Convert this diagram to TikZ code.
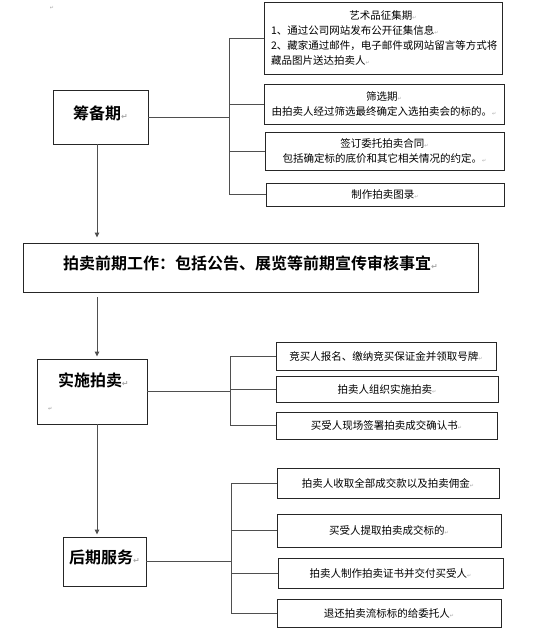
\documentclass[tikz,border=0pt]{standalone}
\usepackage{fontspec}
\usepackage{xcolor}
\usetikzlibrary{arrows.meta}
\newfontfamily\cjk{Noto Sans CJK SC}[BoldFont={Noto Sans CJK SC Bold}]
\newfontfamily\retfont{DejaVu Sans}
\definecolor{FrameBlack}{HTML}{262626}
\definecolor{WireGray}{HTML}{4F4F4F}
\definecolor{MarkGray}{HTML}{A8A8A8}
\newcommand{\bigret}{{\retfont\fontsize{8}{8}\selectfont\color{MarkGray}↵}}
\newcommand{\smallret}{{\retfont\fontsize{5}{5}\selectfont\color{MarkGray}↵}}

\tikzset{
  stagebox/.style={draw=FrameBlack, line width=0.9pt, inner sep=0pt,
    font=\cjk\bfseries\fontsize{16}{20}\selectfont, align=center},
  lifted/.style={text height=12pt, text depth=8pt},
  notebox/.style={draw=FrameBlack, line width=0.8pt, inner sep=0pt,
    font=\cjk\fontsize{10.5}{15}\selectfont, align=center},
  wire/.style={draw=WireGray, line width=0.9pt},
  flow/.style={wire, -{Triangle[length=5pt,width=4.5pt]}}
}

\begin{document}
\begin{tikzpicture}[x=1pt, y=-1pt]
    \useasboundingbox (0,0) rectangle (551,629);
    \node (topmark) at (52,8) {\smallret};

    \node[stagebox, lifted, minimum width=95pt, minimum height=54pt] (prep) at (100.5,117) {筹备期\bigret};
    \node[notebox, minimum width=238pt, minimum height=72pt, text width=224pt, align=left] (collect) at (383,38) {
      {\centering 艺术品征集期\smallret\par}
      1、通过公司网站发布公开征集信息\smallret\\
      2、藏家通过邮件，电子邮件或网站留言等方式将\\
      藏品图片送达拍卖人\smallret
    };
    \node[notebox, minimum width=240pt, minimum height=40pt] (screen) at (384,104) {筛选期\smallret\\由拍卖人经过筛选最终确定入选拍卖会的标的。\smallret};
    \node[notebox, minimum width=239pt, minimum height=38pt] (contract) at (384.5,151) {签订委托拍卖合同\smallret\\包括确定标的底价和其它相关情况的约定。\smallret};
    \node[notebox, minimum width=238pt, minimum height=23pt] (catalog) at (385,194.5) {制作拍卖图录\smallret};

    \node[stagebox, lifted, minimum width=455pt, minimum height=49pt] (pre) at (250.5,267.5) {拍卖前期工作：包括公告、展览等前期宣传审核事宜\bigret};

    \node[stagebox, minimum width=110pt, minimum height=65pt, text width=80pt, align=left] (impl) at (92,391.5) {\hspace*{6pt}实施拍卖\bigret\\[4pt]\hspace*{-4pt}\smallret};
    \node[notebox, minimum width=220pt, minimum height=28pt] (bidding) at (386,356) {竞买人报名、缴纳竞买保证金并领取号牌\smallret};
    \node[notebox, minimum width=222pt, minimum height=26pt] (auction) at (387,389) {拍卖人组织实施拍卖\smallret};
    \node[notebox, minimum width=221pt, minimum height=27pt] (confirm) at (386.5,425.5) {买受人现场签署拍卖成交确认书\smallret};

    \node[stagebox, lifted, minimum width=83pt, minimum height=49pt] (post) at (104.5,561.5) {后期服务\bigret};
    \node[notebox, minimum width=222pt, minimum height=30pt] (payment) at (388,483) {拍卖人收取全部成交款以及拍卖佣金\smallret};
    \node[notebox, minimum width=224pt, minimum height=33pt] (pickup) at (389,530.5) {买受人提取拍卖成交标的\smallret};
    \node[notebox, minimum width=225pt, minimum height=30pt] (certificate) at (390.5,573) {拍卖人制作拍卖证书并交付买受人\smallret};
    \node[notebox, minimum width=224pt, minimum height=28pt] (returnlot) at (389,613) {退还拍卖流标标的给委托人\smallret};

    \coordinate (spine) at (97,0);
    \coordinate (busA) at (229,0);
    \coordinate (busB) at (230,0);
    \coordinate (busC) at (231,0);

    \draw[wire] (prep.east) -- (prep.east -| busA);
    \draw[wire] (collect.west -| busA) -- (catalog.west -| busA);
    \foreach \n in {collect,screen,contract,catalog}
      \draw[wire] (\n.west -| busA) -- (\n.west);

    \draw[wire] (impl.east) -- (impl.east -| busB);
    \draw[wire] (bidding.west -| busB) -- (confirm.west -| busB);
    \foreach \n in {bidding,auction,confirm}
      \draw[wire] (\n.west -| busB) -- (\n.west);

    \draw[wire] (post.east) -- (post.east -| busC);
    \draw[wire] (payment.west -| busC) -- (returnlot.west -| busC);
    \foreach \n in {payment,pickup,certificate,returnlot}
      \draw[wire] (\n.west -| busC) -- (\n.west);

    \draw[flow, shorten >=5pt] (prep.south -| spine) -- (pre.north -| spine);
    \draw[flow, shorten <=5pt, shorten >=2pt] (pre.south -| spine) -- (impl.north -| spine);
    \draw[flow, shorten >=2pt] (impl.south -| spine) -- (post.north -| spine);
  \end{tikzpicture}
\end{document}
